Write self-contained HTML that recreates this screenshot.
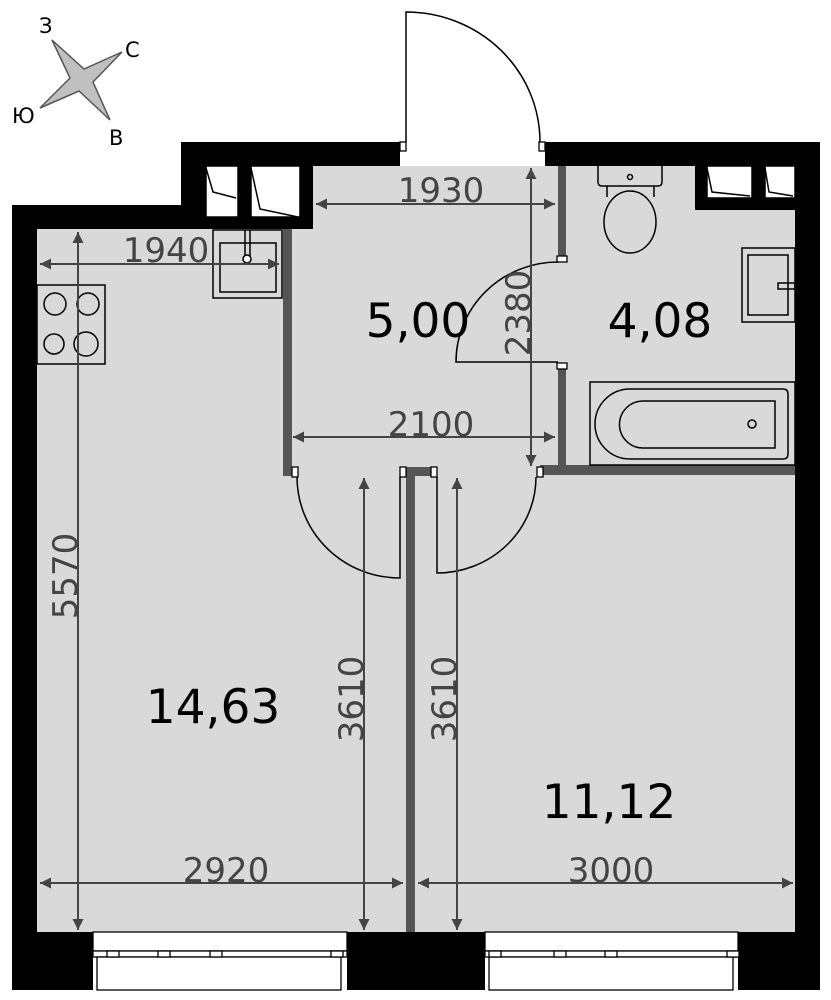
<!DOCTYPE html>
<html><head><meta charset="utf-8"><style>
html,body{margin:0;padding:0;background:#fff;}
svg{display:block;}
text{font-family:"DejaVu Sans","Liberation Sans",sans-serif;}
</style></head><body>
<svg width="831" height="1000" viewBox="0 0 831 1000" xmlns="http://www.w3.org/2000/svg">
<defs>
<marker id="a" viewBox="0 0 10 10" refX="10" refY="5" markerWidth="22" markerHeight="11" markerUnits="userSpaceOnUse" orient="auto-start-reverse"><path d="M0,0 L10,5 L0,10 z" fill="#444"/></marker>
</defs>
<rect x="37" y="229" width="760" height="703" fill="#d9d9d9"/>
<rect x="290" y="166" width="510" height="70" fill="#d9d9d9"/>
<g fill="#000">
<rect x="181" y="142" width="219" height="24"/>
<rect x="545" y="142" width="275" height="24"/>
<rect x="795" y="142" width="25" height="848"/>
<rect x="12" y="205" width="25" height="785"/>
<rect x="12" y="205" width="194" height="24"/>
<rect x="181" y="142" width="25" height="87"/>
<rect x="238" y="166" width="13" height="63"/>
<rect x="300" y="166" width="13" height="63"/>
<rect x="206" y="217" width="107" height="12"/>
<rect x="695" y="166" width="12" height="44"/>
<rect x="752" y="166" width="13" height="44"/>
<rect x="695" y="198" width="100" height="12"/>
<rect x="12" y="932" width="81" height="58"/>
<rect x="347" y="932" width="138" height="58"/>
<rect x="738" y="932" width="82" height="58"/>
</g>
<g fill="#fff" stroke="#000" stroke-width="1.5">
<rect x="206" y="166" width="32" height="51"/>
<rect x="251" y="166" width="49" height="51"/>
<rect x="707" y="166" width="45" height="32"/>
<rect x="765" y="166" width="30" height="32"/>
</g>
<g fill="none" stroke="#000" stroke-width="1.5">
<path d="M206,168 L213,192 L236,198"/>
<path d="M251,168 L260,209 L298,217"/>
<path d="M707,168 L712,192 L750,196"/>
<path d="M765,168 L769,192 L793,196"/>
</g>
<g fill="#555">
<rect x="283" y="229" width="9" height="247"/>
<rect x="558" y="166" width="8" height="96"/>
<rect x="558" y="365" width="8" height="110"/>
<rect x="540" y="465" width="255" height="10"/>
<rect x="406" y="467" width="9" height="465"/>
<rect x="406" y="467" width="27" height="9"/>
</g>
<g fill="#fff" stroke="#000" stroke-width="1.3">
<rect x="400" y="142" width="6" height="9"/>
<rect x="539" y="142" width="6" height="9"/>
<rect x="557" y="256" width="10" height="6"/>
<rect x="557" y="363" width="10" height="6"/>
<rect x="292" y="467" width="6" height="10"/>
<rect x="400" y="467" width="6" height="10"/>
<rect x="431" y="467" width="6" height="10"/>
<rect x="537" y="467" width="6" height="10"/>
</g>
<g fill="none" stroke="#000" stroke-width="1.5">
<path d="M406,142 L406,12 A134,130 0 0 1 540,142"/>
<path d="M558,262 A102,100 0 0 0 456,362 L558,362"/>
<path d="M297,477 A103,101 0 0 0 400,578 L400,477"/>
<path d="M536,477 A99,96 0 0 1 437,573 L437,477"/>
</g>
<g fill="#fff" stroke="#000" stroke-width="1.3">
<rect x="93" y="932" width="254" height="19"/>
<rect x="93" y="951" width="254" height="6"/>
<rect x="97" y="957" width="244" height="33"/>
<rect x="485" y="932" width="253" height="19"/>
<rect x="485" y="951" width="253" height="6"/>
<rect x="489" y="957" width="244" height="33"/>
<rect x="107" y="951" width="12" height="6"/><rect x="158" y="951" width="12" height="6"/><rect x="210" y="951" width="12" height="6"/><rect x="331" y="951" width="12" height="6"/>
<rect x="489" y="951" width="12" height="6"/><rect x="554" y="951" width="12" height="6"/><rect x="605" y="951" width="12" height="6"/><rect x="727" y="951" width="12" height="6"/>
</g>
<g fill="none" stroke="#000" stroke-width="1.5">
<rect x="37" y="285" width="68" height="79"/>
<circle cx="55" cy="304" r="11"/><circle cx="88" cy="304" r="11"/>
<circle cx="54" cy="344" r="10"/><circle cx="86" cy="344" r="12"/>
<rect x="213" y="230" width="69" height="68"/>
<rect x="220" y="243" width="56" height="49"/>
<path d="M245,230 L245,256 M250,230 L250,256"/>
<circle cx="247" cy="259" r="4" fill="#fff"/>
<path d="M598,166 L598,182 Q598,186 602,186 L658,186 Q662,186 662,182 L662,166"/>
<circle cx="630" cy="177" r="2.5"/>
<path d="M607,186 L607,197"/><path d="M654,186 L654,197"/>
<ellipse cx="630" cy="222" rx="26" ry="31"/>
<rect x="742" y="248" width="53" height="74"/>
<rect x="748" y="255" width="40" height="60"/>
<rect x="778" y="283" width="17" height="6"/>
<rect x="590" y="382" width="205" height="83"/>
<path d="M630,389 L783,389 Q788,389 788,394 L788,454 Q788,459 783,459 L630,459 A35,35 0 0 1 630,389 Z"/>
<path d="M643,401 L775,401 L775,448 L643,448 A23.5,23.5 0 0 1 643,401 Z"/>
<circle cx="752" cy="424" r="4"/>
</g>
<g stroke="#444" stroke-width="2" fill="none">
<line x1="316" y1="204" x2="555" y2="204" marker-start="url(#a)" marker-end="url(#a)"/>
<line x1="40" y1="264" x2="279" y2="264" marker-start="url(#a)" marker-end="url(#a)"/>
<line x1="531" y1="168" x2="531" y2="466" marker-start="url(#a)" marker-end="url(#a)"/>
<line x1="293" y1="437" x2="555" y2="437" marker-start="url(#a)" marker-end="url(#a)"/>
<line x1="78" y1="232" x2="78" y2="930" marker-start="url(#a)" marker-end="url(#a)"/>
<line x1="364" y1="478" x2="364" y2="930" marker-start="url(#a)" marker-end="url(#a)"/>
<line x1="457" y1="478" x2="457" y2="930" marker-start="url(#a)" marker-end="url(#a)"/>
<line x1="40" y1="883" x2="403" y2="883" marker-start="url(#a)" marker-end="url(#a)"/>
<line x1="418" y1="883" x2="793" y2="883" marker-start="url(#a)" marker-end="url(#a)"/>
</g>
<g fill="#444" font-size="34">
<text x="441" y="202" text-anchor="middle">1930</text>
<text x="166" y="262" text-anchor="middle">1940</text>
<text x="431" y="436" text-anchor="middle">2100</text>
<text x="226" y="882" text-anchor="middle">2920</text>
<text x="611" y="882" text-anchor="middle">3000</text>
<text transform="translate(530,313) rotate(-90)" text-anchor="middle">2380</text>
<text transform="translate(77,576) rotate(-90)" text-anchor="middle">5570</text>
<text transform="translate(363,699) rotate(-90)" text-anchor="middle">3610</text>
<text transform="translate(456,699) rotate(-90)" text-anchor="middle">3610</text>
</g>
<g fill="#000" font-size="47">
<text x="418" y="337" text-anchor="middle">5,00</text>
<text x="660" y="337" text-anchor="middle">4,08</text>
<text x="213" y="723" text-anchor="middle">14,63</text>
<text x="609" y="818" text-anchor="middle">11,12</text>
</g>
<path d="M52,40 L84,69 L122,52 L93,82 L110,120 L79,91 L40,108 L70,78 Z" fill="#c0c0c0" stroke="#555" stroke-width="1.5"/>
<g fill="#000" font-size="21">
<text x="39" y="33">З</text>
<text x="125" y="57">С</text>
<text x="12" y="123">Ю</text>
<text x="109" y="145">В</text>
</g>
</svg>
</body></html>
